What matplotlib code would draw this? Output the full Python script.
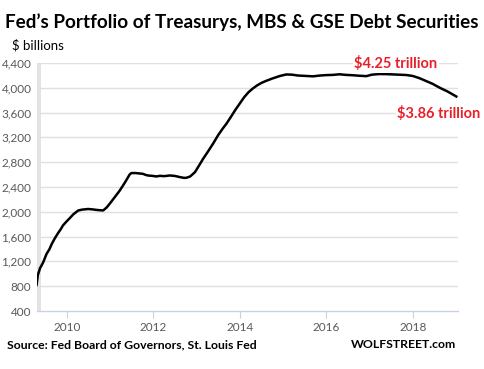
import matplotlib
matplotlib.use("Agg")
import matplotlib.pyplot as plt

years = [2009.30, 2009.33, 2009.38, 2009.45, 2009.53, 2009.60, 2009.65, 2009.72, 2009.80, 2009.86,
         2009.91, 2010.0, 2010.07, 2010.15, 2010.26, 2010.35, 2010.49, 2010.58, 2010.69, 2010.77,
         2010.84, 2010.92, 2010.99, 2011.10, 2011.22, 2011.34, 2011.45, 2011.49, 2011.58, 2011.66,
         2011.76, 2011.82, 2011.88, 2011.97, 2012.07, 2012.15, 2012.25, 2012.38, 2012.50, 2012.61,
         2012.70, 2012.76, 2012.85, 2012.96, 2013.05, 2013.15, 2013.25, 2013.38, 2013.50, 2013.60,
         2013.69, 2013.80, 2013.90, 2014.0, 2014.10, 2014.20, 2014.30, 2014.40, 2014.50, 2014.61,
         2014.75, 2014.92, 2015.07, 2015.20, 2015.34, 2015.50, 2015.69, 2015.85, 2016.0, 2016.15,
         2016.30, 2016.45, 2016.60, 2016.75, 2016.92, 2017.05, 2017.23, 2017.40, 2017.60, 2017.85,
         2018.0, 2018.15, 2018.30, 2018.45, 2018.54, 2018.65, 2018.80, 2018.90, 2019.0]
values = [820, 980, 1090, 1180, 1320, 1400, 1480, 1570, 1660, 1720,
          1780, 1850, 1900, 1960, 2020, 2035, 2045, 2040, 2030, 2025,
          2022, 2070, 2130, 2230, 2340, 2470, 2600, 2625, 2625, 2620,
          2612, 2595, 2585, 2580, 2570, 2580, 2575, 2586, 2578, 2560,
          2548, 2548, 2570, 2639, 2740, 2856, 2960, 3100, 3240, 3340,
          3423, 3540, 3650, 3750, 3850, 3930, 3990, 4040, 4080, 4113,
          4150, 4190, 4215, 4212, 4198, 4192, 4185, 4198, 4205, 4208,
          4218, 4208, 4203, 4195, 4188, 4212, 4222, 4220, 4214, 4206,
          4190, 4155, 4110, 4065, 4030, 3990, 3940, 3900, 3860]

y_ticks = [400, 800, 1200, 1600, 2000, 2400, 2800, 3200, 3600, 4000, 4400]
x_ticks = [2010, 2012, 2014, 2016, 2018]

FONT = "Lato"
fig = plt.figure(figsize=(4.85, 3.69), dpi=100)
ax = fig.add_axes([37/485, 1-311/369, (458-37)/485, (311-63)/369])

xmin, xmax = 2009.31, 2019.04
ax.set_xlim(xmin, xmax)
ax.set_ylim(400, 4400)
ax.axvspan(xmin, 2009.40, color="#e3e3e3", lw=0, zorder=0)

for t in y_ticks[1:]:
    ax.axhline(t, color="#e0e0e0", lw=1, zorder=1)

ax.plot(years, values, color="black", lw=1.8, zorder=3)

for s in ["top", "right", "left"]:
    ax.spines[s].set_visible(False)
ax.spines["bottom"].set_color("#c8d2e6")
ax.spines["bottom"].set_linewidth(1)

ax.set_yticks(y_ticks)
ax.set_yticklabels([f"{v:,}" for v in y_ticks], fontfamily=FONT, fontsize=8.5, color="#595959")
ax.tick_params(axis="y", length=0, pad=4)
ax.set_xticks(x_ticks)
ax.set_xticklabels([str(v) for v in x_ticks], fontfamily=FONT, fontsize=8.5, color="#595959")
ax.tick_params(axis="x", length=5, color="#c8d2e6", pad=3)

fig.text(5/485, 1-22/369, "Fed\u2019s Portfolio of Treasurys, MBS & GSE Debt Securities",
         fontfamily=FONT, fontweight="bold", fontsize=13.6, va="center", ha="left")
fig.text(12/485, 1-45/369, "$ billions", fontfamily=FONT, fontsize=9.5, va="center", ha="left")

red = "#e8202a"
ax.text(2017.6, 4390, "$4.25 trillion", color=red, fontfamily=FONT, fontweight="bold",
        fontsize=10.5, ha="center", va="center", zorder=4,
        bbox=dict(facecolor="white", edgecolor="none", pad=1))
fig.text(397/485, 1-113/369, "$3.86 trillion", color=red, fontfamily=FONT, fontweight="bold",
         fontsize=10.5, ha="left", va="center", zorder=4,
         bbox=dict(facecolor="white", edgecolor="none", pad=1))

fig.text(7/485, 1-345/369, "Source: Fed Board of Governors, St. Louis Fed",
         fontfamily=FONT, fontweight="bold", fontsize=8.8, va="center", ha="left")
fig.text(456/485, 1-345/369, "WOLFSTREET.com",
         fontfamily=FONT, fontweight="bold", fontsize=8.8, va="center", ha="right")

fig.savefig("out.png", dpi=100)
